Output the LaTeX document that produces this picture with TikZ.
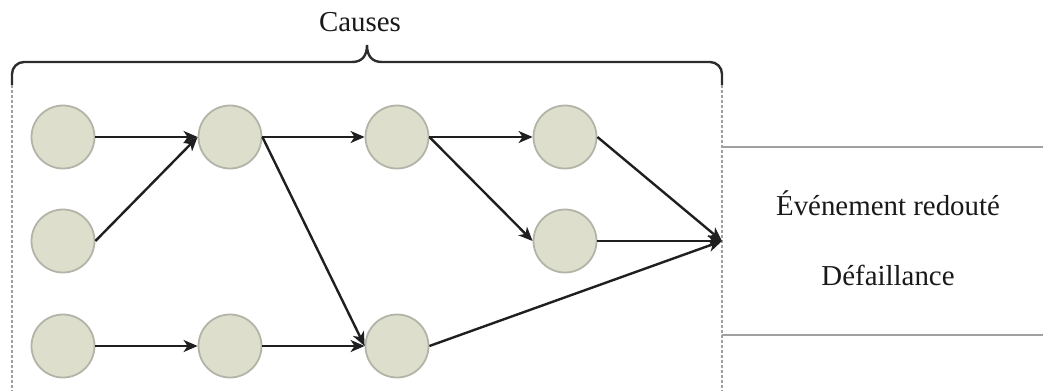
\documentclass[tikz,border=0pt]{standalone}
\usepackage{fontspec}
\setmainfont{Liberation Serif}
\usetikzlibrary{arrows.meta}
\definecolor{cfill}{RGB}{221,223,204}
\definecolor{cdraw}{RGB}{178,180,168}
\definecolor{bracec}{RGB}{45,45,45}
\definecolor{boxc}{RGB}{160,160,160}
\begin{document}
\begin{tikzpicture}[x=1bp,y=-1bp,
  ev/.style={circle,draw=cdraw,fill=cfill,line width=1.8bp,minimum size=63bp,inner sep=0pt},
  conn/.style={draw=black!88,line width=2.4bp,-{Stealth[length=14bp,width=12bp,inset=4bp]}},
  lbl/.style={font=\fontsize{29}{34}\selectfont,text=black!90,anchor=base},
  dashv/.style={draw=boxc,line width=1.2bp,dash pattern=on 3bp off 2bp},
  boxline/.style={draw=boxc,line width=1.6bp}]
\useasboundingbox (0,0) rectangle (1043,391);
% nodes
\node[ev] (a1) at (63,137) {};
\node[ev] (a2) at (63,241) {};
\node[ev] (a3) at (63,346) {};
\node[ev] (b1) at (230,137) {};
\node[ev] (b3) at (230,346) {};
\node[ev] (c1) at (397,137) {};
\node[ev] (c3) at (397,346) {};
\node[ev] (d1) at (565,137) {};
\node[ev] (d2) at (565,241) {};
\coordinate (t) at (722,241);
% brace
\coordinate (bl) at (12,85);
\coordinate (br) at (722,85);
\draw[draw=bracec,line width=2.4bp,rounded corners=12bp]
  (bl) -- (12,62) -- (352,62) coordinate (bm1);
\draw[draw=bracec,line width=2.4bp]
  (bm1) .. controls (362,62) and (367,56) .. (367,45) coordinate (tip)
  .. controls (367,56) and (372,62) .. (382,62) coordinate (bm2);
\draw[draw=bracec,line width=2.4bp,rounded corners=12bp]
  (bm2) -- (722,62) -- (br);
\node[lbl] (causes) at (360,31) {Causes};
% dashed sides
\coordinate (bl2) at (12,391);
\coordinate (br2) at (722,391);
\draw[dashv] (bl) -- (bl2);
\draw[dashv] (br) -- (br2);
% event box
\coordinate (h1a) at (722,147);
\coordinate (h1b) at (1043,147);
\coordinate (h2a) at (722,335);
\coordinate (h2b) at (1043,335);
\draw[boxline] (h1a) -- (h1b);
\draw[boxline] (h2a) -- (h2b);
\node[lbl] (ev1) at (888,215) {Événement redouté};
\node[lbl] (ev2) at (888,285) {Défaillance};
% connectors
\draw[conn] (a1.east) -- (b1.west);
\draw[conn] (a2.east) -- (b1.west);
\draw[conn] (a3.east) -- (b3.west);
\draw[conn] (b1.east) -- (c1.west);
\draw[conn] (b1.east) -- (c3.west);
\draw[conn] (b3.east) -- (c3.west);
\draw[conn] (c1.east) -- (d1.west);
\draw[conn] (c1.east) -- (d2.west);
\draw[conn] (d1.east) -- (t);
\draw[conn] (d2.east) -- (t);
\draw[conn] (c3.east) -- (t);
\end{tikzpicture}
\end{document}
